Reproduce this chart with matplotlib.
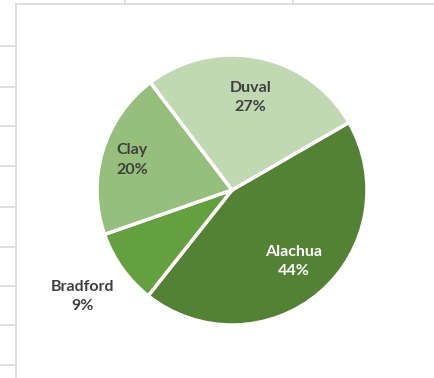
import numpy as np
import matplotlib.pyplot as plt
from matplotlib.lines import Line2D

counties = ['Alachua', 'Bradford', 'Clay', 'Duval']
shares = [44, 9, 20, 27]
colors = ['#548235', '#65a03f', '#95bf7b', '#c0d9b2']
text_colors = ['white', '#404040', '#404040', '#404040']
label_dist = [0.70, 1.36, 0.77, 0.70]

fig = plt.figure(figsize=(4.35, 3.78), dpi=100)
fig.patch.set_facecolor('white')

# spreadsheet grid behind the chart
W, H = 435, 378
grid = '#d9d9d9'
for y in [46, 87, 126, 166, 207, 247, 286, 325, 365]:
    fig.add_artist(Line2D([0, 16 / W], [1 - y / H] * 2, color=grid, lw=1.2))
for x in [125, 293]:
    fig.add_artist(Line2D([x / W] * 2, [1, 1 - 4 / H], color=grid, lw=1.2))
fig.add_artist(Line2D([16 / W, 1], [1 - 4 / H] * 2, color=grid, lw=1.2))
fig.add_artist(Line2D([16 / W] * 2, [0, 1 - 4 / H], color=grid, lw=1.2))

# pie axes: centre (232, 190) px, radius 135 px
ax = fig.add_axes([(232 - 135) / W, (H - 190 - 135) / H, 270 / W, 270 / H])
wedges, _ = ax.pie(shares, colors=colors, startangle=30, counterclock=False,
                   wedgeprops=dict(edgecolor='white', linewidth=2.5))
ax.set_xlim(-1, 1)
ax.set_ylim(-1, 1)
ax.axis('off')

for w, name, pct, tc, r in zip(wedges, counties, shares, text_colors, label_dist):
    mid = np.deg2rad((w.theta1 + w.theta2) / 2)
    ax.text(r * np.cos(mid), r * np.sin(mid), f'{name}\n{pct}%',
            ha='center', va='center', color=tc, fontsize=11.5,
            fontweight='bold', family='Lato', linespacing=1.5,
            clip_on=False)

fig.savefig('out.png', dpi=100)
